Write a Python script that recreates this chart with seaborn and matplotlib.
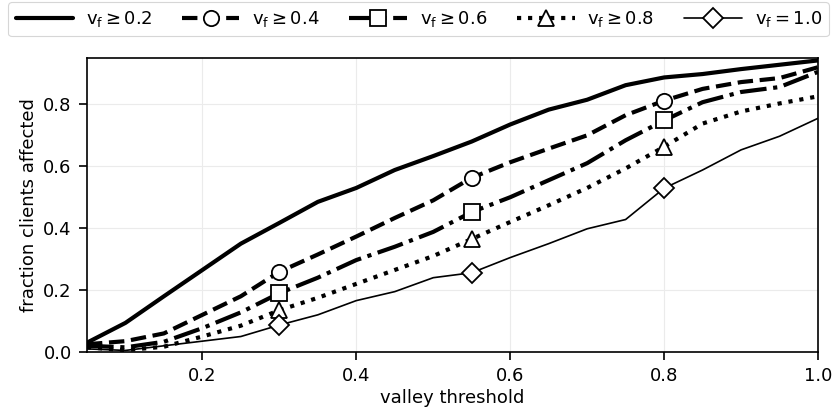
import numpy as np
import pandas as pd
import matplotlib
matplotlib.use("Agg")
import matplotlib.pyplot as plt
from matplotlib.lines import Line2D
import seaborn as sns

thresholds = [0.05, 0.10, 0.15, 0.20, 0.25, 0.30, 0.35, 0.40, 0.45, 0.50,
              0.55, 0.60, 0.65, 0.70, 0.75, 0.80, 0.85, 0.90, 0.95, 1.00]
vf_02 = [0.03, 0.094, 0.18, 0.265, 0.35, 0.417, 0.485, 0.53, 0.588, 0.633,
         0.68, 0.735, 0.783, 0.815, 0.862, 0.887, 0.898, 0.914, 0.928, 0.942]
vf_04 = [0.025, 0.035, 0.06, 0.12, 0.18, 0.259, 0.315, 0.373, 0.433, 0.49,
         0.563, 0.613, 0.657, 0.7, 0.765, 0.812, 0.85, 0.872, 0.885, 0.92]
vf_06 = [0.02, 0.015, 0.033, 0.077, 0.128, 0.19, 0.24, 0.297, 0.34, 0.388,
         0.452, 0.5, 0.555, 0.61, 0.684, 0.748, 0.807, 0.84, 0.856, 0.905]
vf_08 = [0.015, 0.006, 0.017, 0.05, 0.085, 0.135, 0.175, 0.22, 0.265, 0.31,
         0.365, 0.42, 0.474, 0.53, 0.593, 0.663, 0.738, 0.777, 0.803, 0.826]
vf_10 = [0.01, 0.005, 0.02, 0.035, 0.05, 0.087, 0.12, 0.166, 0.195, 0.24,
         0.256, 0.305, 0.35, 0.398, 0.428, 0.529, 0.588, 0.653, 0.697, 0.755]

labels = [r"$\mathregular{v_f \geq 0.2}$", r"$\mathregular{v_f \geq 0.4}$",
          r"$\mathregular{v_f \geq 0.6}$", r"$\mathregular{v_f \geq 0.8}$",
          r"$\mathregular{v_f = 1.0}$"]
series = [vf_02, vf_04, vf_06, vf_08, vf_10]
marker_idx = [5, 10, 15]

styles = [
    dict(linestyle="-", lw=3.0, marker=None, ms=0),
    dict(linestyle="--", lw=3.0, marker="o", ms=11),
    dict(linestyle="-.", lw=3.0, marker="s", ms=11),
    dict(linestyle=":", lw=3.0, marker="^", ms=11),
    dict(linestyle="-", lw=1.2, marker="D", ms=10),
]

sns.set_theme(style="whitegrid")
plt.rcParams["font.family"] = ["DejaVu Sans"]
plt.rcParams["text.color"] = "black"
plt.rcParams["axes.labelcolor"] = "black"

fig = plt.figure(figsize=(8.33, 4.11), dpi=100)
ax = fig.add_axes([0.1044, 0.1436, 0.8776, 0.7154])

df = pd.DataFrame({"x": thresholds})
handles = []
for lab, vals, st in zip(labels, series, styles):
    df["y"] = vals
    kw = dict(linestyle=st["linestyle"], lw=st["lw"], color="black")
    mk = {}
    if st["marker"]:
        mk = dict(marker=st["marker"], markersize=st["ms"],
                  markerfacecolor="white", markeredgecolor="black",
                  markeredgewidth=1.3)
    sns.lineplot(data=df, x="x", y="y", ax=ax, legend=False,
                 markevery=marker_idx if mk else None, **kw, **mk)
    handles.append(Line2D([], [], **kw, **mk))

ax.set_xlim(0.05, 1.0)
ax.set_ylim(0.0, 0.95)
ax.set_xticks([0.2, 0.4, 0.6, 0.8, 1.0])
ax.set_yticks([0.0, 0.2, 0.4, 0.6, 0.8])
ax.set_xticklabels(["0.2", "0.4", "0.6", "0.8", "1.0"])
ax.set_yticklabels(["0.0", "0.2", "0.4", "0.6", "0.8"])
ax.set_xlabel("valley threshold", fontsize=13, labelpad=3)
ax.set_ylabel("fraction clients affected", fontsize=13, labelpad=4)
ax.tick_params(axis="both", labelsize=13, length=6, width=1.2, color="black",
               labelcolor="black", direction="out", bottom=True, left=True, pad=5)
ax.grid(True, color="#ebebeb", lw=0.8)
ax.set_facecolor("white")
for sp in ax.spines.values():
    sp.set_visible(True)
    sp.set_color("black")
    sp.set_linewidth(1.2)

leg = fig.legend(handles, labels, loc="upper left", ncol=5, mode="expand",
                 bbox_to_anchor=(0.01, 0.995, 0.985, 0.0), fontsize=13,
                 frameon=True, handlelength=3.2, numpoints=1,
                 borderaxespad=0.0, handletextpad=0.7, columnspacing=1.0)
leg.get_frame().set_edgecolor("#cccccc")
leg.get_frame().set_linewidth(0.8)

fig.savefig("out.png", dpi=100, facecolor="white")
